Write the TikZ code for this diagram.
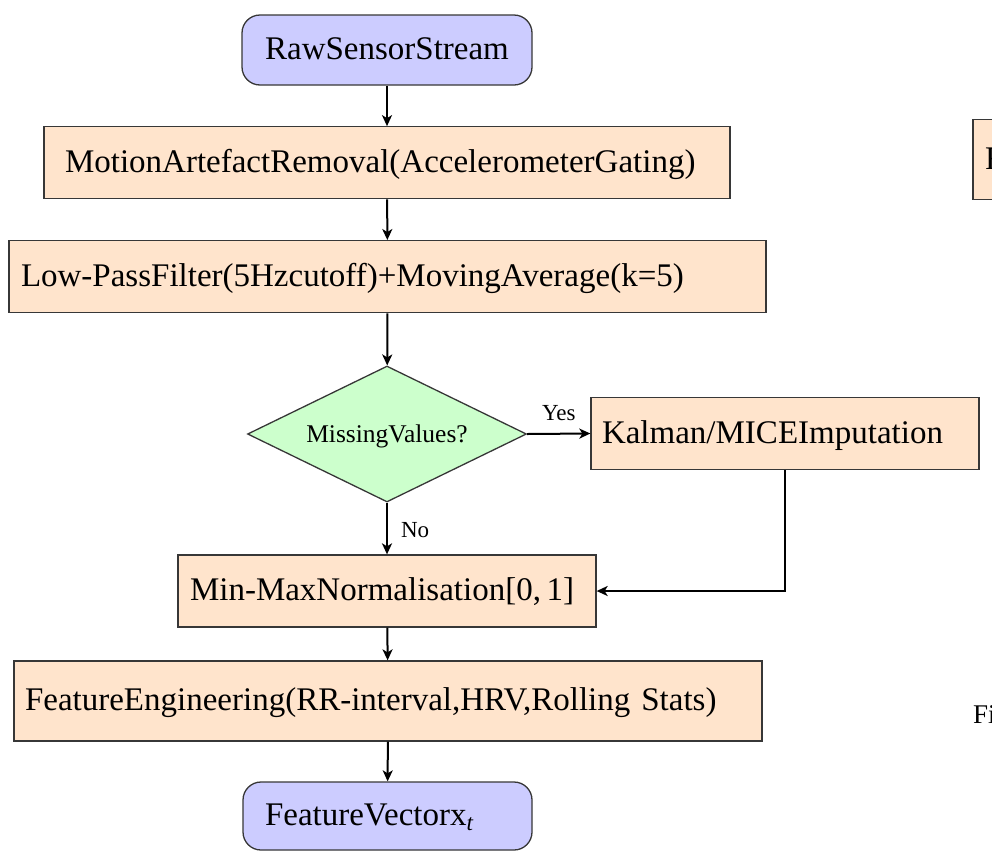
\documentclass[tikz,border=0pt]{standalone}
\usepackage{fontspec}
\setmainfont{Liberation Serif}
\usetikzlibrary{shapes.geometric,arrows.meta}
\definecolor{peach}{RGB}{255,228,204}
\definecolor{lav}{RGB}{204,204,255}
\definecolor{mint}{RGB}{204,255,204}
\definecolor{edge}{RGB}{55,55,55}
\begin{document}
\begin{tikzpicture}[x=1pt,y=-1pt,
  boxbase/.style={draw=edge, line width=1.3pt, inner ysep=0pt,
    text height=23pt, text depth=3.3pt,
    font=\fontsize{33}{40}\selectfont},
  proc/.style={boxbase, rectangle, fill=peach, align=left},
  term/.style={boxbase, rectangle, rounded corners=18pt, fill=lav},
  decision/.style={draw=edge, line width=1.3pt, diamond, fill=mint, aspect=2,
    inner sep=0pt, text height=17pt, text depth=1pt, font=\fontsize{25.5}{30}\selectfont},
  arr/.style={-{Stealth[length=11pt,width=10pt,inset=3pt]}, line width=2pt, black},
  edgelabel/.style={font=\fontsize{23}{27}\selectfont, inner sep=0pt}
]
\useasboundingbox (0,0) rectangle (992,852);
\clip (0,0) rectangle (992,852);

% main pipeline
\node[term, minimum width=290pt, minimum height=70pt, align=center] (raw) at (387,50) {RawSensorStream};
\node[proc, minimum width=686pt, minimum height=72pt, text width=644pt, inner xsep=21pt] (mar) at (387,162.8)
  {MotionArtefactRemoval(AccelerometerGating)};
\node[proc, minimum width=757pt, minimum height=72pt, text width=733pt, inner xsep=12pt] (lpf) at (387.5,276.7)
  {Low-PassFilter(5Hzcutoff)+MovingAverage(k=5)};
\node[decision, minimum width=279pt, minimum height=136pt] (miss) at (387,434) {MissingValues?};
\node[proc, minimum width=388pt, minimum height=71.5pt, text width=366pt, inner xsep=11pt] (imp) at (785,433.5)
  {Kalman/MICEImputation};
\node[proc, minimum width=418pt, minimum height=72pt, text width=394pt, inner xsep=12pt] (norm) at (387,591)
  {Min-MaxNormalisation[0,\,1]};
\node[proc, minimum width=748pt, minimum height=80pt, text width=726pt, inner xsep=11pt] (feat) at (388,701)
  {FeatureEngineering(RR-interval,HRV,Rolling Stats)};
\node[term, minimum width=289pt, minimum height=68pt, text width=245pt, inner xsep=22pt, align=left] (vec) at (387.5,816)
  {FeatureVectorx\textsubscript{\itshape t}};

% neighbouring column, cut by the page edge
\node[proc, minimum width=160pt, minimum height=80pt, text width=136pt, inner xsep=12pt] (nextbox) at (1053,159.5) {F};
\node[anchor=base west, inner sep=0pt, font=\fontsize{27}{32}\selectfont] (nextcap) at (973,723) {Fi};

% connectors
\draw[arr] (raw) -- (mar);
\draw[arr] (mar) -- (lpf);
\draw[arr] (lpf) -- (miss);
\draw[arr] (miss.east) -- node[edgelabel, anchor=base, yshift=13pt] (yes) {Yes} (imp.west);
\draw[arr] (miss.south) -- node[edgelabel, anchor=base west, xshift=13pt, yshift=-8.5pt] (no) {No} (norm.north);
\draw[arr] (imp.south) |- (norm.east);
\draw[arr] (norm) -- (feat);
\draw[arr] (feat) -- (vec);
\end{tikzpicture}
\end{document}
